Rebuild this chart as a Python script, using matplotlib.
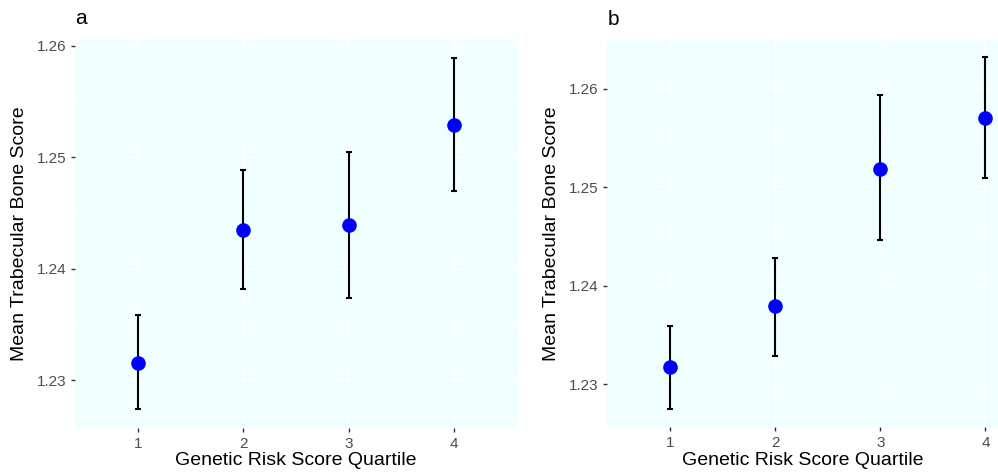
import matplotlib.pyplot as plt
import numpy as np

plt.rcParams['font.family'] = ['Liberation Sans', 'DejaVu Sans']

quartiles = [1, 2, 3, 4]

# panel a
mean_a = [1.2315, 1.2435, 1.2439, 1.2529]
low_a = [1.2274, 1.2382, 1.2374, 1.2470]
high_a = [1.2358, 1.2488, 1.2505, 1.2589]

# panel b
mean_b = [1.2317, 1.2379, 1.2519, 1.2570]
low_b = [1.2275, 1.2329, 1.2446, 1.2509]
high_b = [1.2359, 1.2428, 1.2594, 1.2632]

yticks_a = [1.23, 1.24, 1.25, 1.26]
yticks_b = [1.23, 1.24, 1.25, 1.26]

fig = plt.figure(figsize=(9.98, 4.74), dpi=100)
ax_a = fig.add_axes([0.0752, 0.097, 0.4429, 0.8186])
ax_b = fig.add_axes([0.6085, 0.0985, 0.3915, 0.8156])


def draw(ax, mean, low, high, yticks, ylim, xlim, label):
    ax.set_facecolor('#F0FFFF')
    m = np.array(mean)
    err = [m - np.array(low), np.array(high) - m]
    ax.errorbar(quartiles, mean, yerr=err, fmt='none', ecolor='black',
                elinewidth=1.5, capsize=2.5, capthick=1.5, zorder=3)
    ax.plot(quartiles, mean, 'o', color='#0000FF', markersize=9.5, zorder=4)
    ax.set_xticks(quartiles)
    ax.set_yticks(yticks)
    ax.set_yticks([t - 0.005 for t in yticks] + [yticks[-1] + 0.005], minor=True)
    # limits after ticks so the minor ticks don't stretch the range
    ax.set_xlim(*xlim)
    ax.set_ylim(*ylim)
    ax.grid(True, which='major', color='white', linewidth=1.1)
    ax.grid(True, which='minor', axis='y', color='white', linewidth=0.6)
    ax.set_axisbelow(True)
    for s in ax.spines.values():
        s.set_visible(False)
    ax.tick_params(which='major', length=3, color='#333333', labelcolor='#4D4D4D',
                   labelsize=11, width=1)
    ax.tick_params(which='minor', length=0)
    ax.set_xlabel('Genetic Risk Score Quartile', fontsize=14, labelpad=1)
    ax.set_ylabel('Mean Trabecular Bone Score', fontsize=14, labelpad=6)
    ax.text(0.0, 1.03, label, transform=ax.transAxes, fontsize=15, va='bottom')


draw(ax_a, mean_a, low_a, high_a, yticks_a, (1.2257, 1.2605), (0.4, 4.6), 'a')
draw(ax_b, mean_b, low_b, high_b, yticks_b, (1.2256, 1.2649), (0.4, 4.12), 'b')

fig.savefig('out.png', dpi=100)
